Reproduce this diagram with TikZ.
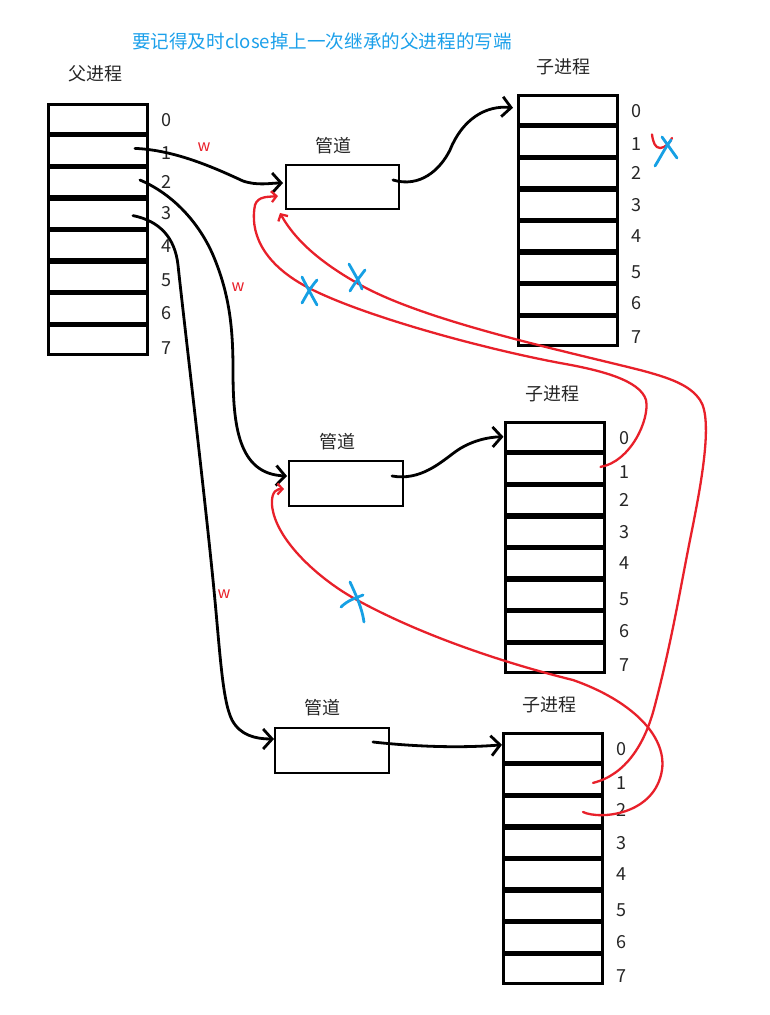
\documentclass[tikz,border=0pt]{standalone}
\usepackage{fontspec}
\setmainfont{Noto Sans CJK SC}
\usetikzlibrary{arrows.meta}
\definecolor{myred}{HTML}{E8202A}
\definecolor{myblue}{HTML}{16A0E4}
\definecolor{titleblue}{HTML}{1CA0EA}
\begin{document}
\begin{tikzpicture}[x=1pt,y=-1pt,
  cell/.style={draw, line width=3pt, minimum width=99pt, minimum height=29.2pt, inner sep=0pt, outer sep=0pt},
  pipebox/.style={draw, line width=2.8pt, inner sep=0pt, outer sep=0pt},
  num/.style={font=\fontsize{18}{18}\selectfont, text=black!85, inner sep=0pt},
  lab/.style={font=\fontsize{18}{18}\selectfont, text=black!85, inner sep=0pt},
  wlab/.style={text=myred, font=\fontsize{16}{16}\selectfont, inner sep=0pt},
  conn/.style={line width=2.8pt, line cap=round, line join=round, -{Straight Barb[length=9pt,width=20pt]}},
  redc/.style={myred, line width=2.3pt, line cap=round, line join=round, -{Straight Barb[length=5pt,width=11pt]}},
  redplain/.style={myred, line width=2.3pt, line cap=round, line join=round},
  xmark/.style={myblue, line width=2.8pt, line cap=round}
]
\useasboundingbox (0,0) rectangle (770,1015);

% title
\node[text=titleblue, font=\fontsize{18.6}{18.6}\selectfont, inner sep=0pt] (title) at (322,41) {要记得及时close掉上一次继承的父进程的写端};

% parent table
\node[lab] (plab) at (95,74) {父进程};
\foreach \i in {0,...,7} \node[cell] (p\i) at (97.5,{103+31.6*\i+15.8}) {};
\foreach \i/\y in {0/120,1/153,2/182,3/213,4/246,5/280,6/313,7/348} \node[num] (pn\i) at (166,\y) {\i};

% child 1
\node[lab] (c1lab) at (563,67) {子进程};
\foreach \i in {0,...,7} \node[cell] (a\i) at (567.5,{94+31.6*\i+15.8}) {};
\foreach \i/\y in {0/111,1/144,2/173,3/205,4/236,5/272,6/303,7/337} \node[num] (an\i) at (636,\y) {\i};

% child 2
\node[lab] (c2lab) at (552,394) {子进程};
\foreach \i in {0,...,7} \node[cell] (b\i) at (555,{421+31.6*\i+15.8}) {};
\foreach \i/\y in {0/438,1/472,2/500,3/532,4/563,5/599,6/631,7/665} \node[num] (bn\i) at (624,\y) {\i};

% child 3
\node[lab] (c3lab) at (549,705) {子进程};
\foreach \i in {0,...,7} \node[cell] (c\i) at (552.5,{732+31.6*\i+15.8}) {};
\foreach \i/\y in {0/749,1/783,2/810,3/843,4/874,5/910,6/942,7/976} \node[num] (cn\i) at (621,\y) {\i};

% pipes
\node[lab] (g1lab) at (333,146) {管道};
\node[pipebox, minimum width=113pt, minimum height=44pt] (pipe1) at (342.5,187) {};
\node[lab] (g2lab) at (337,442) {管道};
\node[pipebox, minimum width=114pt, minimum height=45pt] (pipe2) at (346,483.5) {};
\node[lab] (g3lab) at (322,708) {管道};
\node[pipebox, minimum width=114pt, minimum height=45pt] (pipe3) at (332,750.5) {};

% w labels
\node[wlab] (w1) at (204,147) {w};
\node[wlab] (w2) at (238,287) {w};
\node[wlab] (w3) at (224,594) {w};

% black connectors parent -> pipes
\draw[conn] ([shift={(-12,-2)}]p1.east) .. controls (175,150) and (215,168) .. (243,181)
  .. controls (258,186) and (270,183) .. ([shift={(-3,-4)}]pipe1.west);
\draw[conn] ([shift={(-7,-2)}]p2.east) .. controls (175,195) and (200,225) .. (213,255)
  .. controls (230,295) and (233,330) .. (233,370)
  .. controls (233,425) and (238,474) .. ([shift={(-2,-7.5)}]pipe2.west);
\draw[conn] ([shift={(-14,2)}]p3.east) .. controls (160,221) and (175,238) .. (178,265)
  .. controls (185,330) and (203,480) .. (213,580)
  .. controls (220,650) and (222,700) .. (232,720)
  .. controls (240,735) and (255,739) .. ([shift={(-1,-11.5)}]pipe3.west);

% black connectors pipes -> children
\draw[conn] ([shift={(-6,-7)}]pipe1.east) .. controls (420,188) and (440,170) .. (450,150)
  .. controls (462,120) and (485,105) .. ([shift={(-5,-2)}]a0.west);
\draw[conn] ([shift={(-11,-7.5)}]pipe2.east) .. controls (420,481) and (440,463) .. (455,452)
  .. controls (470,441) and (488,437) .. ([shift={(-2,0)}]b0.west);
\draw[conn] ([shift={(-16,-8.5)}]pipe3.east) .. controls (400,745) and (450,749) .. ([shift={(-1,-3)}]c0.west);

% red curves
\draw[redc] ([shift={(-4,-1.5)}]b1.east) .. controls (630,462) and (650,420) .. (646,400)
  .. controls (640,380) and (600,370) .. (560,363)
  .. controls (480,348) and (360,315) .. (307,287)
  .. controls (260,262) and (250,230) .. (255,205)
  .. controls (258,196) and (268,197) .. ([shift={(-8,9)}]pipe1.west);
\draw[redc] ([shift={(-9,3.5)}]c1.east) .. controls (625,775) and (645,745) .. (655,705)
  .. controls (672,640) and (680,590) .. (690,540)
  .. controls (700,490) and (714,420) .. (700,400)
  .. controls (690,385) and (670,378) .. (640,370)
  .. controls (560,350) and (420,320) .. (357,283)
  .. controls (320,262) and (295,240) .. ([shift={(-6,4)}]pipe1.south west);
\draw[redc] ([shift={(-19,1)}]c2.east) .. controls (600,820) and (655,815) .. (662,770)
  .. controls (667,735) and (630,700) .. (573,680)
  .. controls (520,667) and (430,640) .. (357,600)
  .. controls (320,580) and (275,540) .. (272,505)
  .. controls (271,490) and (278,489) .. ([shift={(-5,5.5)}]pipe2.west);
% small red check near child1 fd1
\draw[redplain] ([shift={(35,-7)}]a1.east) .. controls (653,142) and (655,148) .. (660,148)
  .. controls (665,148) and (670,143) .. (672,138);

% blue crosses
\draw[xmark] (662,137) -- (677,158);
\draw[xmark] (671,140) .. controls (665,148) and (660,158) .. (655,166);
\draw[xmark] (302,277) .. controls (307,287) and (312,296) .. (317,305);
\draw[xmark] (317,280) .. controls (310,288) and (306,296) .. (302,303);
\draw[xmark] (349,264) .. controls (354,273) and (359,281) .. (362,289);
\draw[xmark] (365,270) .. controls (359,278) and (354,284) .. (350,291);
\draw[xmark] (350,582) .. controls (356,595) and (362,608) .. (364,622);
\draw[xmark] (341,607) .. controls (348,600) and (356,598) .. (363,595);
\end{tikzpicture}
\end{document}
